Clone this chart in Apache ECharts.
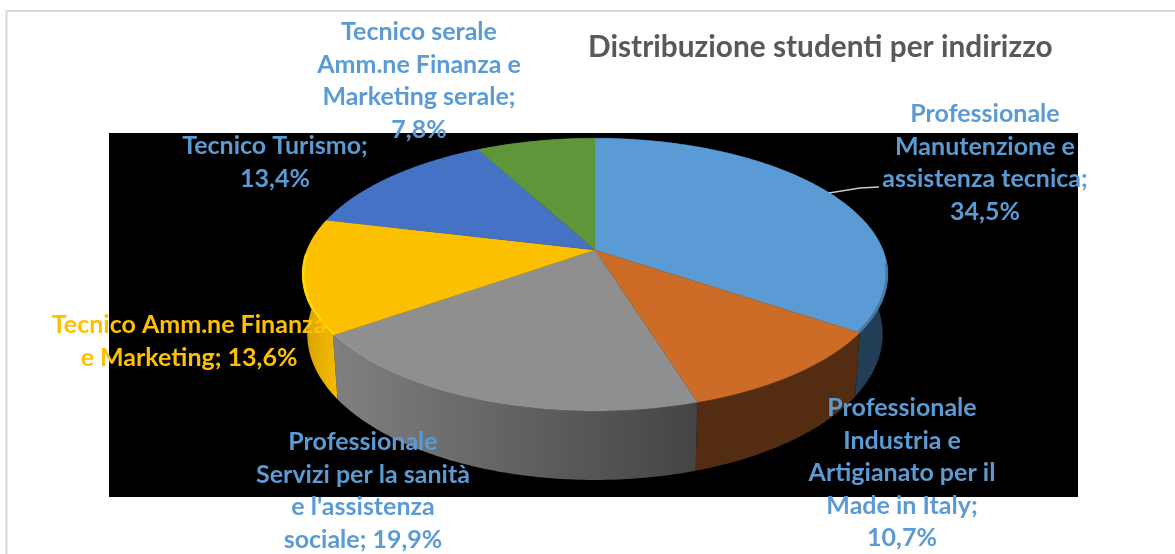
<!DOCTYPE html>
<html><head><meta charset="utf-8">
<style>html,body{margin:0;padding:0;background:#fff}#c{width:1175px;height:554px}</style>
<script src="https://cdn.jsdelivr.net/npm/echarts@6/dist/echarts.min.js"></script>
</head><body><div id="c"></div>
<script>
var titleText = 'Distribuzione studenti per indirizzo';
var categories = [
  'Professionale\nManutenzione e\nassistenza tecnica;',
  'Professionale\nIndustria e\nArtigianato per il\nMade in Italy;',
  'Professionale\nServizi per la sanità\ne l\'assistenza\nsociale;',
  'Tecnico Amm.ne Finanza\ne Marketing;',
  'Tecnico Turismo;',
  'Tecnico serale\nAmm.ne Finanza e\nMarketing serale;'
];
var values = [34.5, 10.7, 19.9, 13.6, 13.4, 7.8];
var topColors = ['#5b9bd5', '#cd6c26', '#8f8f8f', '#fdc000', '#4472c4', '#5f9639'];
var wallStart = ['#2a4c69', '#532c11', '#808080', '#d4a100', '#2c4a80', '#3b5c24'];
var wallEnd   = ['#223d54', '#532c11', '#444444', '#f7bb00', '#2c4a80', '#3b5c24'];
var rimColors = ['#41719c', null, null, '#ffe000', null, null];
var labelColors = ['#5b9bd5', '#5b9bd5', '#5b9bd5', '#ffc000', '#5b9bd5', '#5b9bd5'];
// Whether the percentage stays on the last text line or takes a line of its own
var percentInline = [false, false, true, true, false, false];
// Label anchors: [centre x, y of first line's centre]; separate from the data.
var labelAnchors = [[985, 114], [902, 408], [363, 442], [189, 325], [275, 146], [419, 32]];

var LINE_H = 32.5, FONT = 'Lato, Carlito, "Open Sans", sans-serif';
var CX = 595, PERSP = -0.18;
var TOP = {cy: 250, rx: 288, ry: 132};
var BOT = {cy: 308, rx: 283, ry: 141};
var total = values.reduce(function (a, b) { return a + b; }, 0);

function proj(deg, plane) {
  var t = deg * Math.PI / 180, u = Math.sin(t), v = -Math.cos(t), d = 1 + PERSP * v;
  return [CX + plane.rx * u / d, plane.cy + plane.ry * v / d];
}
function angles(i) {
  var s = 0; for (var k = 0; k < i; k++) s += values[k];
  return [s / total * 360, (s + values[i]) / total * 360];
}
function arc(a, b, plane) {
  var pts = [], n = Math.max(2, Math.ceil(Math.abs(b - a) * 2));
  for (var k = 0; k <= n; k++) pts.push(proj(a + (b - a) * k / n, plane));
  return pts;
}
function renderWall(params, api) {
  var i = params.dataIndex, r = angles(i);
  api.value(0);
  var pts = arc(r[0], r[1], TOP).concat(arc(r[1], r[0], BOT));
  return {type: 'polygon', shape: {points: pts}, style: {
    fill: new echarts.graphic.LinearGradient(0, 0, 1, 0, [
      {offset: 0, color: wallStart[i]}, {offset: 1, color: wallEnd[i]}]),
    stroke: null}};
}
function renderTop(params, api) {
  var i = params.dataIndex, r = angles(i);
  api.value(0);
  var pts = [[CX, TOP.cy]].concat(arc(r[0], r[1], TOP));
  var children = [{type: 'polygon', shape: {points: pts}, style: {fill: topColors[i], stroke: topColors[i], lineWidth: 0.3}}];
  if (rimColors[i]) {
    var a = Math.max(r[0], 96), b = Math.min(r[1], 268);
    children.push({type: 'polyline', shape: {points: arc(a, b, {cy: TOP.cy - 1, rx: TOP.rx - 1, ry: TOP.ry})},
      style: {fill: null, stroke: rimColors[i], lineWidth: 2.5, opacity: 0.8}});
  }
  return {type: 'group', children: children};
}

var seriesData = values.map(function (v, i) { return {name: categories[i], value: v}; });

var graphics = [
  {type: 'polyline', z: 0, shape: {points: [[6.5, 554], [6.5, 11], [1175, 11]]}, style: {fill: null, stroke: '#d9d9d9', lineWidth: 2}},
  {type: 'rect', z: 0, shape: {x: 109, y: 133, width: 969, height: 364}, style: {fill: '#000'}},
  {type: 'polyline', z: 50, shape: {points: [[829, 193], [860, 188], [879, 187]]}, style: {fill: null, stroke: '#c9c9c9', lineWidth: 1.3}},
  {type: 'text', z: 100, x: 588, y: 47, style: {text: titleText, fill: '#595959', font: '700 29.8px ' + FONT, textAlign: 'left', textVerticalAlign: 'middle'}}
];
categories.forEach(function (c, i) {
  var lines = c.split('\n');
  var pct = values[i].toFixed(1).replace('.', ',') + '%';
  if (percentInline[i]) { lines[lines.length - 1] += ' ' + pct; } else { lines.push(pct); }
  lines.forEach(function (t, k) {
    graphics.push({type: 'text', z: 100, x: labelAnchors[i][0], y: labelAnchors[i][1] + k * LINE_H,
      style: {text: t, fill: labelColors[i], font: '700 25px ' + FONT, textAlign: 'center', textVerticalAlign: 'middle'}});
  });
});

var chart = echarts.init(document.getElementById('c'), null, {renderer: 'canvas'});
chart.setOption({
  animation: false,
  backgroundColor: '#ffffff',
  graphic: {elements: graphics},
  series: [
    {type: 'custom', coordinateSystem: 'none', z: 5, renderItem: renderWall, data: seriesData, silent: true},
    {type: 'custom', coordinateSystem: 'none', z: 6, renderItem: renderTop, data: seriesData, silent: true}
  ]
});
</script></body></html>
